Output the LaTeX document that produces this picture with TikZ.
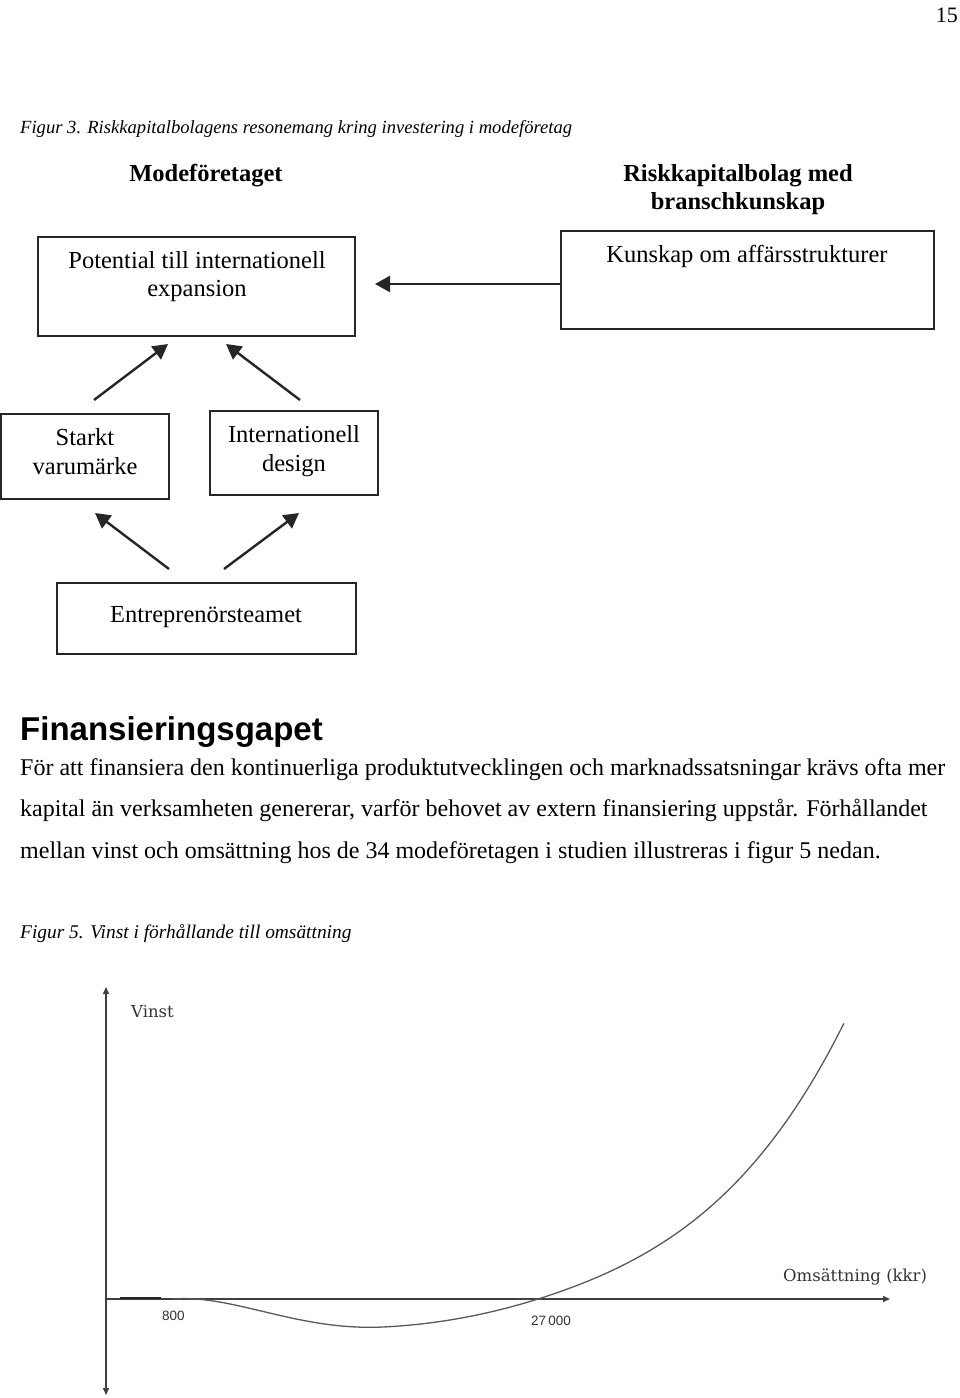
\documentclass[tikz,border=0pt]{standalone}
\usepackage{fontspec}
\setmainfont{Liberation Serif}
\newfontfamily\arialfont{Liberation Sans}
\newfontfamily\graphfont{DejaVu Serif}
\usetikzlibrary{arrows.meta}
\tikzset{
  box/.style={draw=black!85, line width=2pt, inner sep=0pt, fill=none},
  flowarrow/.style={draw=black!85, line width=2.4pt, -{Triangle[length=15pt,width=16pt]}},
  boxtext/.style={font=\fontsize{24.5}{29}\selectfont, align=center, inner sep=0pt},
  headtext/.style={font=\bfseries\fontsize{24.5}{29}\selectfont, align=center, inner sep=0pt},
  bodytext/.style={font=\fontsize{24}{28}\selectfont, anchor=base west, inner sep=0pt},
  captext/.style={font=\itshape\fontsize{18.6}{23}\selectfont, anchor=base west, inner sep=0pt},
  axis/.style={draw=black!75, line width=1.5pt, -{Triangle[length=7pt,width=6pt]}},
  curve/.style={draw=black!65, line width=1.3pt},
  graphlabel/.style={font=\graphfont\fontsize{16.5}{19}\selectfont, inner sep=0pt, text=black!80},
  ticklabel/.style={font=\arialfont\fontsize{13.5}{16}\selectfont, inner sep=0pt, text=black!80}
}
\begin{document}
\begin{tikzpicture}[x=1pt,y=-1pt]
\useasboundingbox (0,0) rectangle (960,1398);
\fill[white] (0,0) rectangle (960,1398);

% page number
\node[anchor=base east, inner sep=0pt, font=\fontsize{22}{26}\selectfont] (pagenum) at (958,22) {15};

% caption figure 3
\node[captext] (cap3) at (20,133) {Figur 3. Riskkapitalbolagens resonemang kring investering i modeföretag};

% headings
\node[headtext, anchor=base] (hmode) at (206,181) {Modeföretaget};
\node[headtext, anchor=base] (hrisk1) at (738,181) {Riskkapitalbolag med};
\node[headtext, anchor=base] (hrisk2) at (738,209) {branschkunskap};

% boxes
\node[box, minimum width=317pt, minimum height=99pt] (bpot) at (196.5,286.5) {};
\node[box, minimum width=373pt, minimum height=98pt] (bkun) at (747.5,280) {};
\node[box, minimum width=168pt, minimum height=85pt] (bstark) at (85,456.5) {};
\node[box, minimum width=168pt, minimum height=84pt] (bintl) at (294,453) {};
\node[box, minimum width=299pt, minimum height=71pt] (bentre) at (206.5,618.5) {};

% box texts
\node[boxtext, anchor=base] (tpot1) at (197,268) {Potential till internationell};
\node[boxtext, anchor=base] (tpot2) at (197,296) {expansion};
\node[boxtext, anchor=base] (tkun) at (747,262) {Kunskap om affärsstrukturer};
\node[boxtext, anchor=base] (tst1) at (85,445) {Starkt};
\node[boxtext, anchor=base] (tst2) at (85,474) {varumärke};
\node[boxtext, anchor=base] (tin1) at (294,442) {Internationell};
\node[boxtext, anchor=base] (tin2) at (294,471) {design};
\node[boxtext, anchor=base] (ten) at (206,622) {Entreprenörsteamet};

% arrow endpoints
\coordinate (a0e) at (375,284);
\coordinate (a0s) at (bkun.west |- a0e);
\coordinate (a1s) at (94,400);
\coordinate (a1e) at (168,344);
\coordinate (a2s) at (300,400);
\coordinate (a2e) at (226,344);
\coordinate (a3s) at (169,569);
\coordinate (a3e) at (95,513);
\coordinate (a4s) at (224,569);
\coordinate (a4e) at (299,513);

\draw[flowarrow] (a0s) -- (a0e);
\draw[flowarrow] (a1s) -- (a1e);
\draw[flowarrow] (a2s) -- (a2e);
\draw[flowarrow] (a3s) -- (a3e);
\draw[flowarrow] (a4s) -- (a4e);

% text section
\node[anchor=base west, inner sep=0pt, font=\arialfont\bfseries\fontsize{33}{38}\selectfont] (fgap) at (20,740) {Finansieringsgapet};
\node[bodytext] (l1) at (20,775) {För att finansiera den kontinuerliga produktutvecklingen och marknadssatsningar krävs ofta mer};
\node[bodytext] (l2) at (20,816) {kapital än verksamheten genererar, varför behovet av extern finansiering uppstår. Förhållandet};
\node[bodytext] (l3) at (20,858) {mellan vinst och omsättning hos de 34 modeföretagen i studien illustreras i figur 5 nedan.};
\node[captext, font=\itshape\fontsize{19.4}{23}\selectfont] (cap5) at (20,938) {Figur 5. Vinst i förhållande till omsättning};

% graph
\coordinate (org) at (106,1299);
\coordinate (ytop) at (106,987);
\coordinate (ybot) at (106,1395);
\coordinate (xend) at (890,1299);
\draw[axis] (org) -- (ytop);
\draw[axis] (org) -- (ybot);
\draw[axis] (org) -- (xend);
\coordinate (segA) at (120,1298);
\coordinate (segB) at (161,1298);
\draw[draw=black!85, line width=2.2pt] (segA) -- (segB);
\draw[curve] plot[domain=1.73:8.44, samples=140, variable=\s]
  ({100*\s}, {1299 - (\s-1.73)*(\s-5.38)*(8.6 + 0.6*max(0,\s-5.6)^2 - 2.4*max(0,3.85-\s)^2)});

\node[graphlabel, anchor=west] (vinst) at (131,1012) {Vinst};
\node[graphlabel, anchor=west] (oms) at (783,1277) {Omsättning (kkr)};
\node[ticklabel, anchor=west] (t800) at (162,1316) {800};
\node[ticklabel, anchor=west] (t27) at (531,1321) {27\,000};
\end{tikzpicture}
\end{document}
